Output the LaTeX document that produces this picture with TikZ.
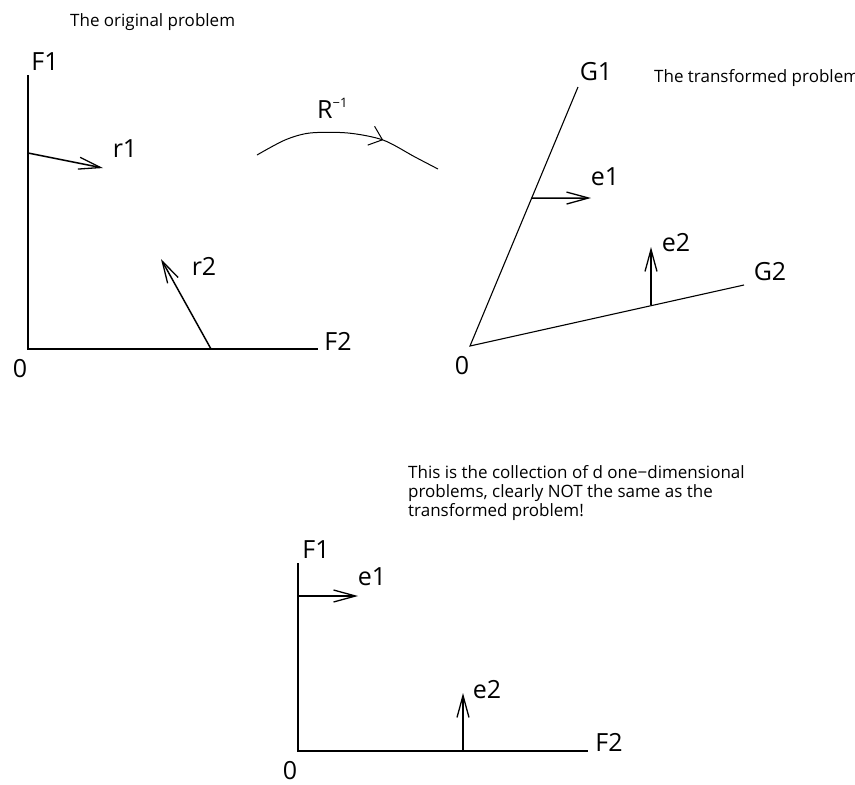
\documentclass[tikz,border=0pt]{standalone}
\usepackage{fontspec}
\setmainfont{Open Sans}
\usetikzlibrary{arrows.meta,decorations.markings,calc}
\begin{document}
\begin{tikzpicture}[x=1pt,y=-1pt,
  axis/.style={line width=1.5pt},
  gline/.style={line width=1.1pt},
  vec/.style={line width=1.5pt,-{Straight Barb[length=22pt,width=12pt,line width=1.3pt]}},
  lbl/.style={inner sep=0pt,font=\fontsize{25}{25}\selectfont},
  note/.style={inner sep=0pt,font=\fontsize{17}{18.5}\selectfont,anchor=base west},
  rcurve/.style={line width=1pt,postaction=decorate,
    decoration={markings,mark=at position 0.68 with {\arrow{Straight Barb[length=12pt,width=20pt,line width=1pt]}}}},
]
\clip (0,0) rectangle (855,785);

% ---------- original problem ----------
\node[note] (t1) at (70,26) {The original problem};
\coordinate (O1) at (28,349);
\coordinate (F1top) at (28,75);
\coordinate (F2end) at (318,349);
\draw[axis] (F1top) -- (O1) -- (F2end);
\node[lbl] (F1a) at (45,62) {F1};
\node[lbl] (F2a) at (338,341) {F2};
\node[lbl] (Oa) at (20,369) {0};
\coordinate (r1s) at (28,153);
\coordinate (r1e) at (103,168);
\draw[vec] (r1s) -- (r1e);
\node[lbl] (r1l) at (125,149) {r1};
\coordinate (r2s) at (211,349);
\coordinate (r2e) at (161,259);
\draw[vec] (r2s) -- (r2e);
\node[lbl] (r2l) at (204,266) {r2};

% ---------- transformation ----------
\node[lbl,anchor=base west] (R) at (317,118) {R\raisebox{11pt}{\fontsize{13}{13}\selectfont\char"2212 1}};
\draw[rcurve] plot[smooth] coordinates {(257,155) (285,140) (310,133) (348,133) (383,140) (415,157) (438,169)};

% ---------- transformed problem ----------
\node[note] (t2) at (654,82) {The transformed problem};
\coordinate (O2) at (470,346);
\coordinate (G1end) at (578,87);
\coordinate (G2end) at (744,285);
\draw[gline] (G1end) -- (O2) -- (G2end);
\node[lbl] (G1l) at (596,72) {G1};
\node[lbl] (G2l) at (770,272) {G2};
\node[lbl] (Ob) at (462,366) {0};
\coordinate (e1s) at ($(O2)!0.571!(G1end)$);
\coordinate (e1e) at (591,198);
\draw[vec] (e1s) -- (e1e);
\node[lbl] (e1l) at (605,177) {e1};
\coordinate (e2s) at (651,305);
\coordinate (e2e) at (651,247);
\draw[vec] (e2s) -- (e2e);
\node[lbl] (e2l) at (676,243) {e2};

% ---------- one-dimensional problems ----------
\node[note] (n1) at (408,478) {This is the collection of d one\char"2212 dimensional};
\node[note] (n2) at (408,497) {problems, clearly NOT the same as the};
\node[note] (n3) at (408,516) {transformed problem!};
\coordinate (O3) at (298,751);
\coordinate (F1top3) at (298,563);
\coordinate (F2end3) at (588,751);
\draw[axis] (F1top3) -- (O3) -- (F2end3);
\node[lbl] (F1c) at (316,550) {F1};
\node[lbl] (F2c) at (609,742) {F2};
\node[lbl] (Oc) at (290,771) {0};
\coordinate (e1s3) at (298,596);
\coordinate (e1e3) at (358,596);
\draw[vec] (e1s3) -- (e1e3);
\node[lbl] (e1c) at (372,577) {e1};
\coordinate (e2s3) at (463,751);
\coordinate (e2e3) at (463,693);
\draw[vec] (e2s3) -- (e2e3);
\node[lbl] (e2c) at (487,690) {e2};
\end{tikzpicture}
\end{document}
